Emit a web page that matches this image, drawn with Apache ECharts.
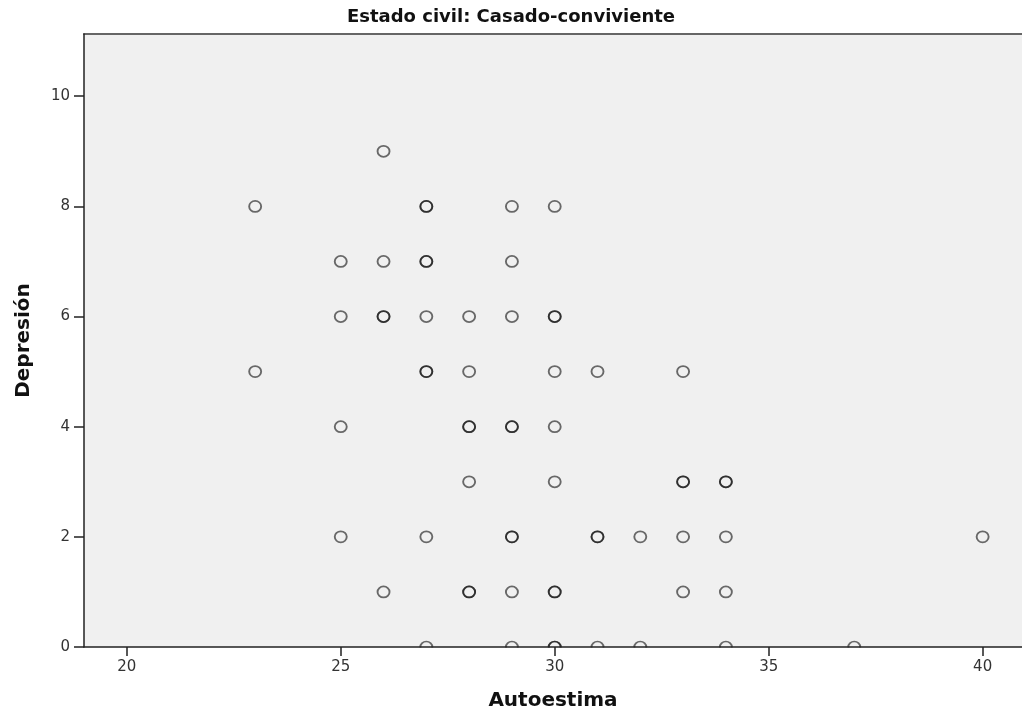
<!DOCTYPE html>
<html>
<head>
<meta charset="utf-8">
<script src="https://cdn.jsdelivr.net/npm/echarts@6/dist/echarts.min.js"></script>
<style>html,body{margin:0;padding:0;background:#fff}#c{width:1022px;height:716px}</style>
</head>
<body>
<div id="c"></div>
<script>
// Autoestima (x) and Depresión (y), one entry per case (duplicates overlap and look darker)
const autoestima = [
  26,
  23, 27, 27, 29, 30,
  25, 26, 27, 27, 29,
  25, 26, 26, 27, 28, 29, 30, 30,
  23, 27, 27, 28, 30, 31, 33,
  25, 28, 28, 29, 29, 30,
  28, 30, 33, 33, 34, 34,
  25, 27, 29, 29, 31, 31, 32, 33, 34, 40,
  26, 28, 28, 29, 30, 30, 33, 34,
  27, 29, 30, 30, 31, 32, 34, 37
];
const depresion = [
  9,
  8, 8, 8, 8, 8,
  7, 7, 7, 7, 7,
  6, 6, 6, 6, 6, 6, 6, 6,
  5, 5, 5, 5, 5, 5, 5,
  4, 4, 4, 4, 4, 4,
  3, 3, 3, 3, 3, 3,
  2, 2, 2, 2, 2, 2, 2, 2, 2, 2,
  1, 1, 1, 1, 1, 1, 1, 1,
  0, 0, 0, 0, 0, 0, 0, 0
];
const xTicks = [20, 25, 30, 35, 40];
const yTicks = [0, 2, 4, 6, 8, 10];
const titleText = 'Estado civil: Casado-conviviente';
const xName = 'Autoestima';
const yName = 'Depresión';

const points = autoestima.map((x, i) => [x, depresion[i]]);

const chart = echarts.init(document.getElementById('c'), null, {renderer: 'canvas'});
const FONT = 'DejaVu Sans';
const X_MIN = 19, X_MAX = 40.92;
chart.setOption({
  animation: false,
  backgroundColor: '#ffffff',
  title: {
    text: titleText,
    left: 'center',
    top: 3,
    textStyle: {fontFamily: FONT, fontSize: 18, fontWeight: 'bold', color: '#111'}
  },
  grid: {
    left: 84, top: 34, right: 0, height: 613,
    show: true, backgroundColor: '#f0f0f0', borderWidth: 0
  },
  xAxis: [{
    type: 'value', min: X_MIN, max: X_MAX, z: 10, position: 'bottom',
    name: xName, nameLocation: 'middle', nameGap: 44,
    nameTextStyle: {fontFamily: FONT, fontSize: 20, fontWeight: 'bold', color: '#111'},
    axisLine: {show: true, lineStyle: {color: '#222', width: 1.5}},
    axisTick: {show: true, length: 9, lineStyle: {color: '#222', width: 1.5}, customValues: xTicks},
    axisLabel: {fontFamily: FONT, fontSize: 15, color: '#333', margin: 13, customValues: xTicks},
    splitLine: {show: false}
  }, {
    type: 'value', min: X_MIN, max: X_MAX, position: 'top',
    axisLine: {show: true, lineStyle: {color: '#666', width: 2}},
    axisTick: {show: false}, axisLabel: {show: false}, splitLine: {show: false}
  }],
  yAxis: {
    type: 'value', min: 0, max: 11.13, z: 10,
    name: yName, nameLocation: 'middle', nameGap: 50, nameRotate: 90,
    nameTextStyle: {fontFamily: FONT, fontSize: 20, fontWeight: 'bold', color: '#111'},
    axisLine: {show: true, lineStyle: {color: '#222', width: 1.5}},
    axisTick: {show: true, length: 10, lineStyle: {color: '#222', width: 1.5}, customValues: yTicks},
    axisLabel: {fontFamily: FONT, fontSize: 15, color: '#333', margin: 14, customValues: yTicks},
    splitLine: {show: false}
  },
  graphic: [{
    type: 'rect', z: 5, silent: true,
    shape: {x: 0, y: 647.6, width: 1022, height: 70},
    style: {fill: '#ffffff'}
  }],
  series: [{
    type: 'scatter',
    xAxisIndex: 0,
    data: points,
    symbol: 'circle',
    symbolSize: [12, 11],
    clip: false,
    itemStyle: {color: 'rgba(0,0,0,0)', borderColor: 'rgba(10,10,10,0.74)', borderWidth: 1.8}
  }]
});
</script>
</body>
</html>
